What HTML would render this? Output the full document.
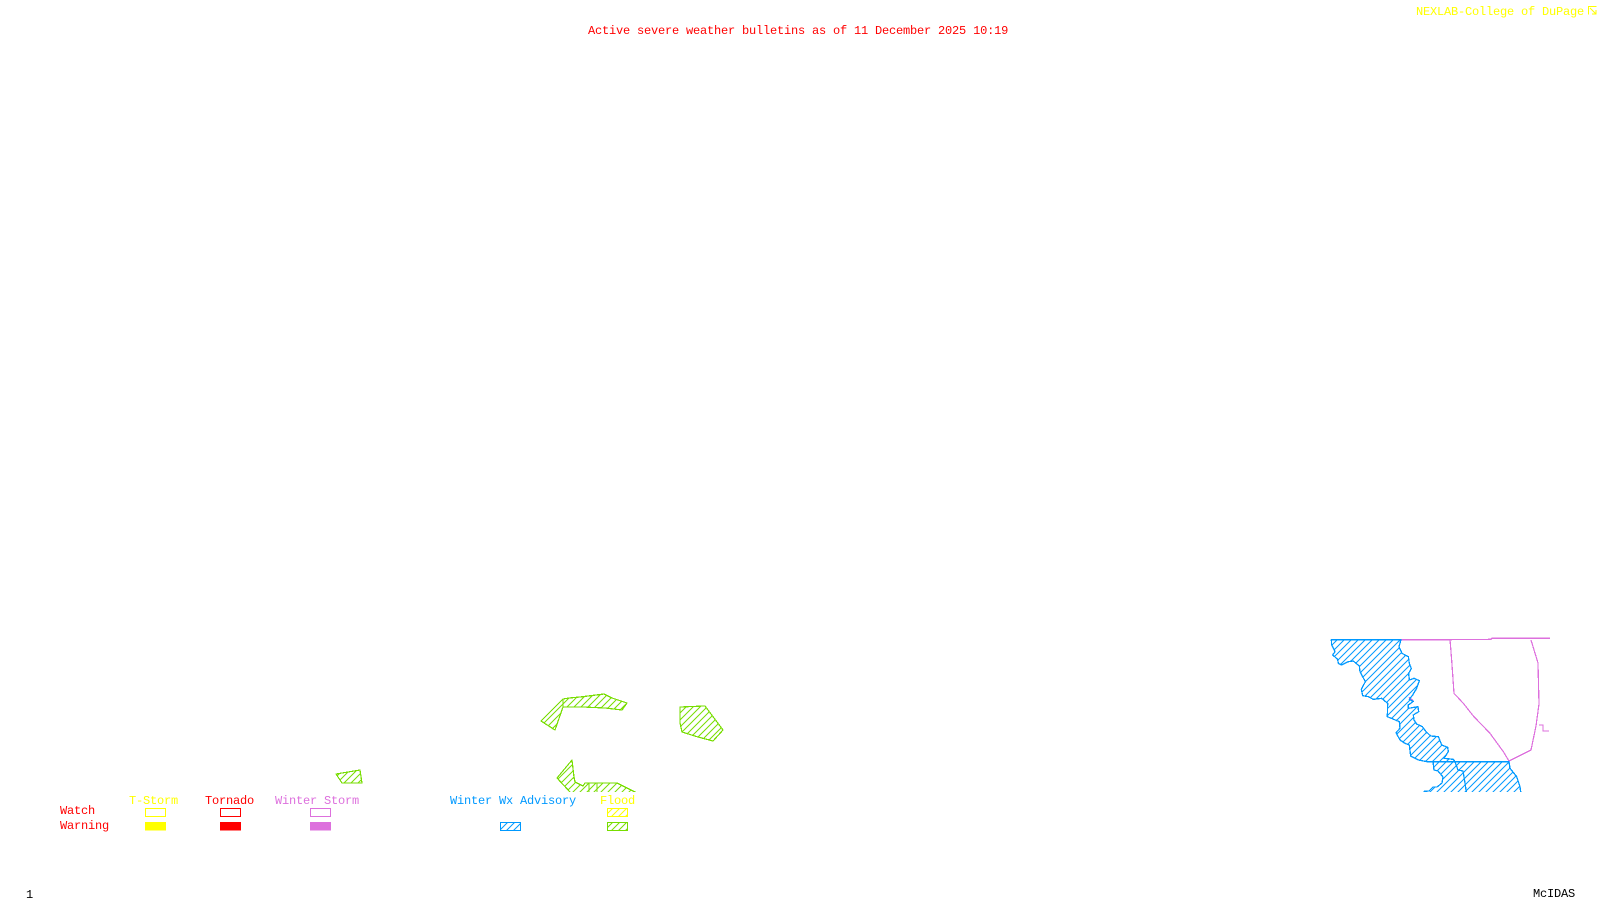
<!DOCTYPE html>
<html>
<head>
<meta charset="utf-8">
<style>
html,body{margin:0;padding:0;background:#fff;width:1600px;height:900px;overflow:hidden}
svg{display:block}
text{font-family:"Liberation Mono",monospace;font-size:12px;letter-spacing:-0.2px}
</style>
</head>
<body>
<svg width="1600" height="900" viewBox="0 0 1600 900" xmlns="http://www.w3.org/2000/svg">
<defs>
<pattern id="hb" patternUnits="userSpaceOnUse" width="21" height="21"><path d="M-3 3L3 -3M0 21L21 0M18 24L24 18" stroke="#0099ff" stroke-width="3" fill="none"/></pattern>
<pattern id="hg" patternUnits="userSpaceOnUse" width="7" height="7"><path d="M-1 1L1 -1M0 7L7 0M6 8L8 6" stroke="#77dd00" stroke-width="1" fill="none"/></pattern>
<pattern id="hy" patternUnits="userSpaceOnUse" width="7" height="7"><path d="M-1 1L1 -1M0 7L7 0M6 8L8 6" stroke="#ffff00" stroke-width="1" fill="none"/></pattern>
<pattern id="hbs" patternUnits="userSpaceOnUse" width="7" height="7"><path d="M-1 1L1 -1M0 7L7 0M6 8L8 6" stroke="#0099ff" stroke-width="1" fill="none"/></pattern>
<clipPath id="c"><rect x="0" y="0" width="1600" height="792"/></clipPath>
</defs>
<rect width="1600" height="900" fill="#fff"/>

<text x="588" y="34" fill="#ff0000">Active severe weather bulletins as of 11 December 2025 10:19</text>
<text x="1416" y="15" fill="#ffff00">NEXLAB-College of DuPage</text>
<g fill="none" stroke="#ffff00" stroke-width="1"><path d="M1588.5 14.5V6.5H1596.5M1590 8L1596 14M1592 14H1596V10"/></g>

<g clip-path="url(#c)" shape-rendering="crispEdges">
<g fill="url(#hg)" stroke="#77dd00" stroke-width="1.2" stroke-linejoin="round">
<polygon points="563,699 541,721 555,730 563,707"/>
<polygon points="563,699 569,698 580,697 588,696 604,694 612,698 627,703 622,710 605,708 583,707 563,707"/>
<polygon points="680,707 705,706 723,730 713,741 698,737 682,732 680,723"/>
<polygon points="336,774 360,770 362,783 342,783"/>
<polygon points="572,760 557,778 570,792 570,796 645,796 635,792 623,786 617,783 585,783 583,786 575,782 574,777"/>
<path d="M589 783V792M597 783V792" fill="none"/>
</g>
<g transform="translate(1290,610) scale(0.33333)">
<g fill="none" stroke="#dd70dd" stroke-width="3.6">
<path d="M333 89H480L603 88L605 85H780"/>
<path d="M480 89L485 150L492 250L520 280L550 318L600 370L640 425L657 453"/>
<path d="M657 453L723 420L738 348L747 282L744 159L723 90"/>
<path d="M747 345H759V363H777"/>
<path d="M357 262L370 272"/>
</g>
<g fill="url(#hb)" stroke="#0099ff" stroke-width="3.9" stroke-linejoin="round">
<polygon points="124,89 333,89 327,110 336,130 355,140 358,160 364,176 356,190 358,210 372,205 388,212 380,235 368,255 358,268 370,274 355,285 355,295 384,290 386,305 370,315 372,330 380,342 397,350 408,365 422,378 445,380 455,405 473,412 475,425 462,445 490,448 495,455 430,455 410,455 385,450 362,438 358,405 345,400 330,390 318,368 330,355 328,335 292,320 293,280 275,265 250,268 235,260 218,257 214,238 226,215 210,185 208,168 190,153 175,155 155,165 145,160 143,148 128,135 135,125 125,105"/>
<polygon points="429,455 657,455 660,475 680,500 690,530 694,560 402,560 402,544 417,543 429,531 441,531 456,519 459,501 444,483 432,480"/>
<path d="M495 456L504 480L519 483L525 519L531 560" fill="none"/>
</g>
</g>
</g>

<text x="129" y="804" fill="#ffff00">T-Storm</text>
<text x="205" y="804" fill="#ff0000">Tornado</text>
<text x="275" y="804" fill="#dd70dd">Winter Storm</text>
<text x="450" y="804" fill="#0099ff">Winter Wx Advisory</text>
<text x="600" y="804" fill="#ffff00">Flood</text>
<text x="60" y="814" fill="#ff0000">Watch</text>
<text x="60" y="829" fill="#ff0000">Warning</text>

<g shape-rendering="crispEdges">
<rect x="145.5" y="808.5" width="20" height="8" fill="none" stroke="#ffff00"/>
<rect x="220.5" y="808.5" width="20" height="8" fill="none" stroke="#ff0000"/>
<rect x="310.5" y="808.5" width="20" height="8" fill="none" stroke="#dd70dd"/>
<rect x="607.5" y="808.5" width="20" height="8" fill="url(#hy)" stroke="#ffff00"/>
<rect x="145" y="822" width="21" height="8.5" fill="#ffff00"/>
<rect x="220" y="822" width="21" height="8.5" fill="#ff0000"/>
<rect x="310" y="822" width="21" height="8.5" fill="#dd70dd"/>
<rect x="500.5" y="822.5" width="20" height="8" fill="url(#hbs)" stroke="#0099ff"/>
<rect x="607.5" y="822.5" width="20" height="8" fill="url(#hg)" stroke="#77dd00"/>
</g>

<text x="26" y="898" fill="#000">1</text>
<text x="1533" y="897" fill="#000">McIDAS</text>
</svg>
</body>
</html>
